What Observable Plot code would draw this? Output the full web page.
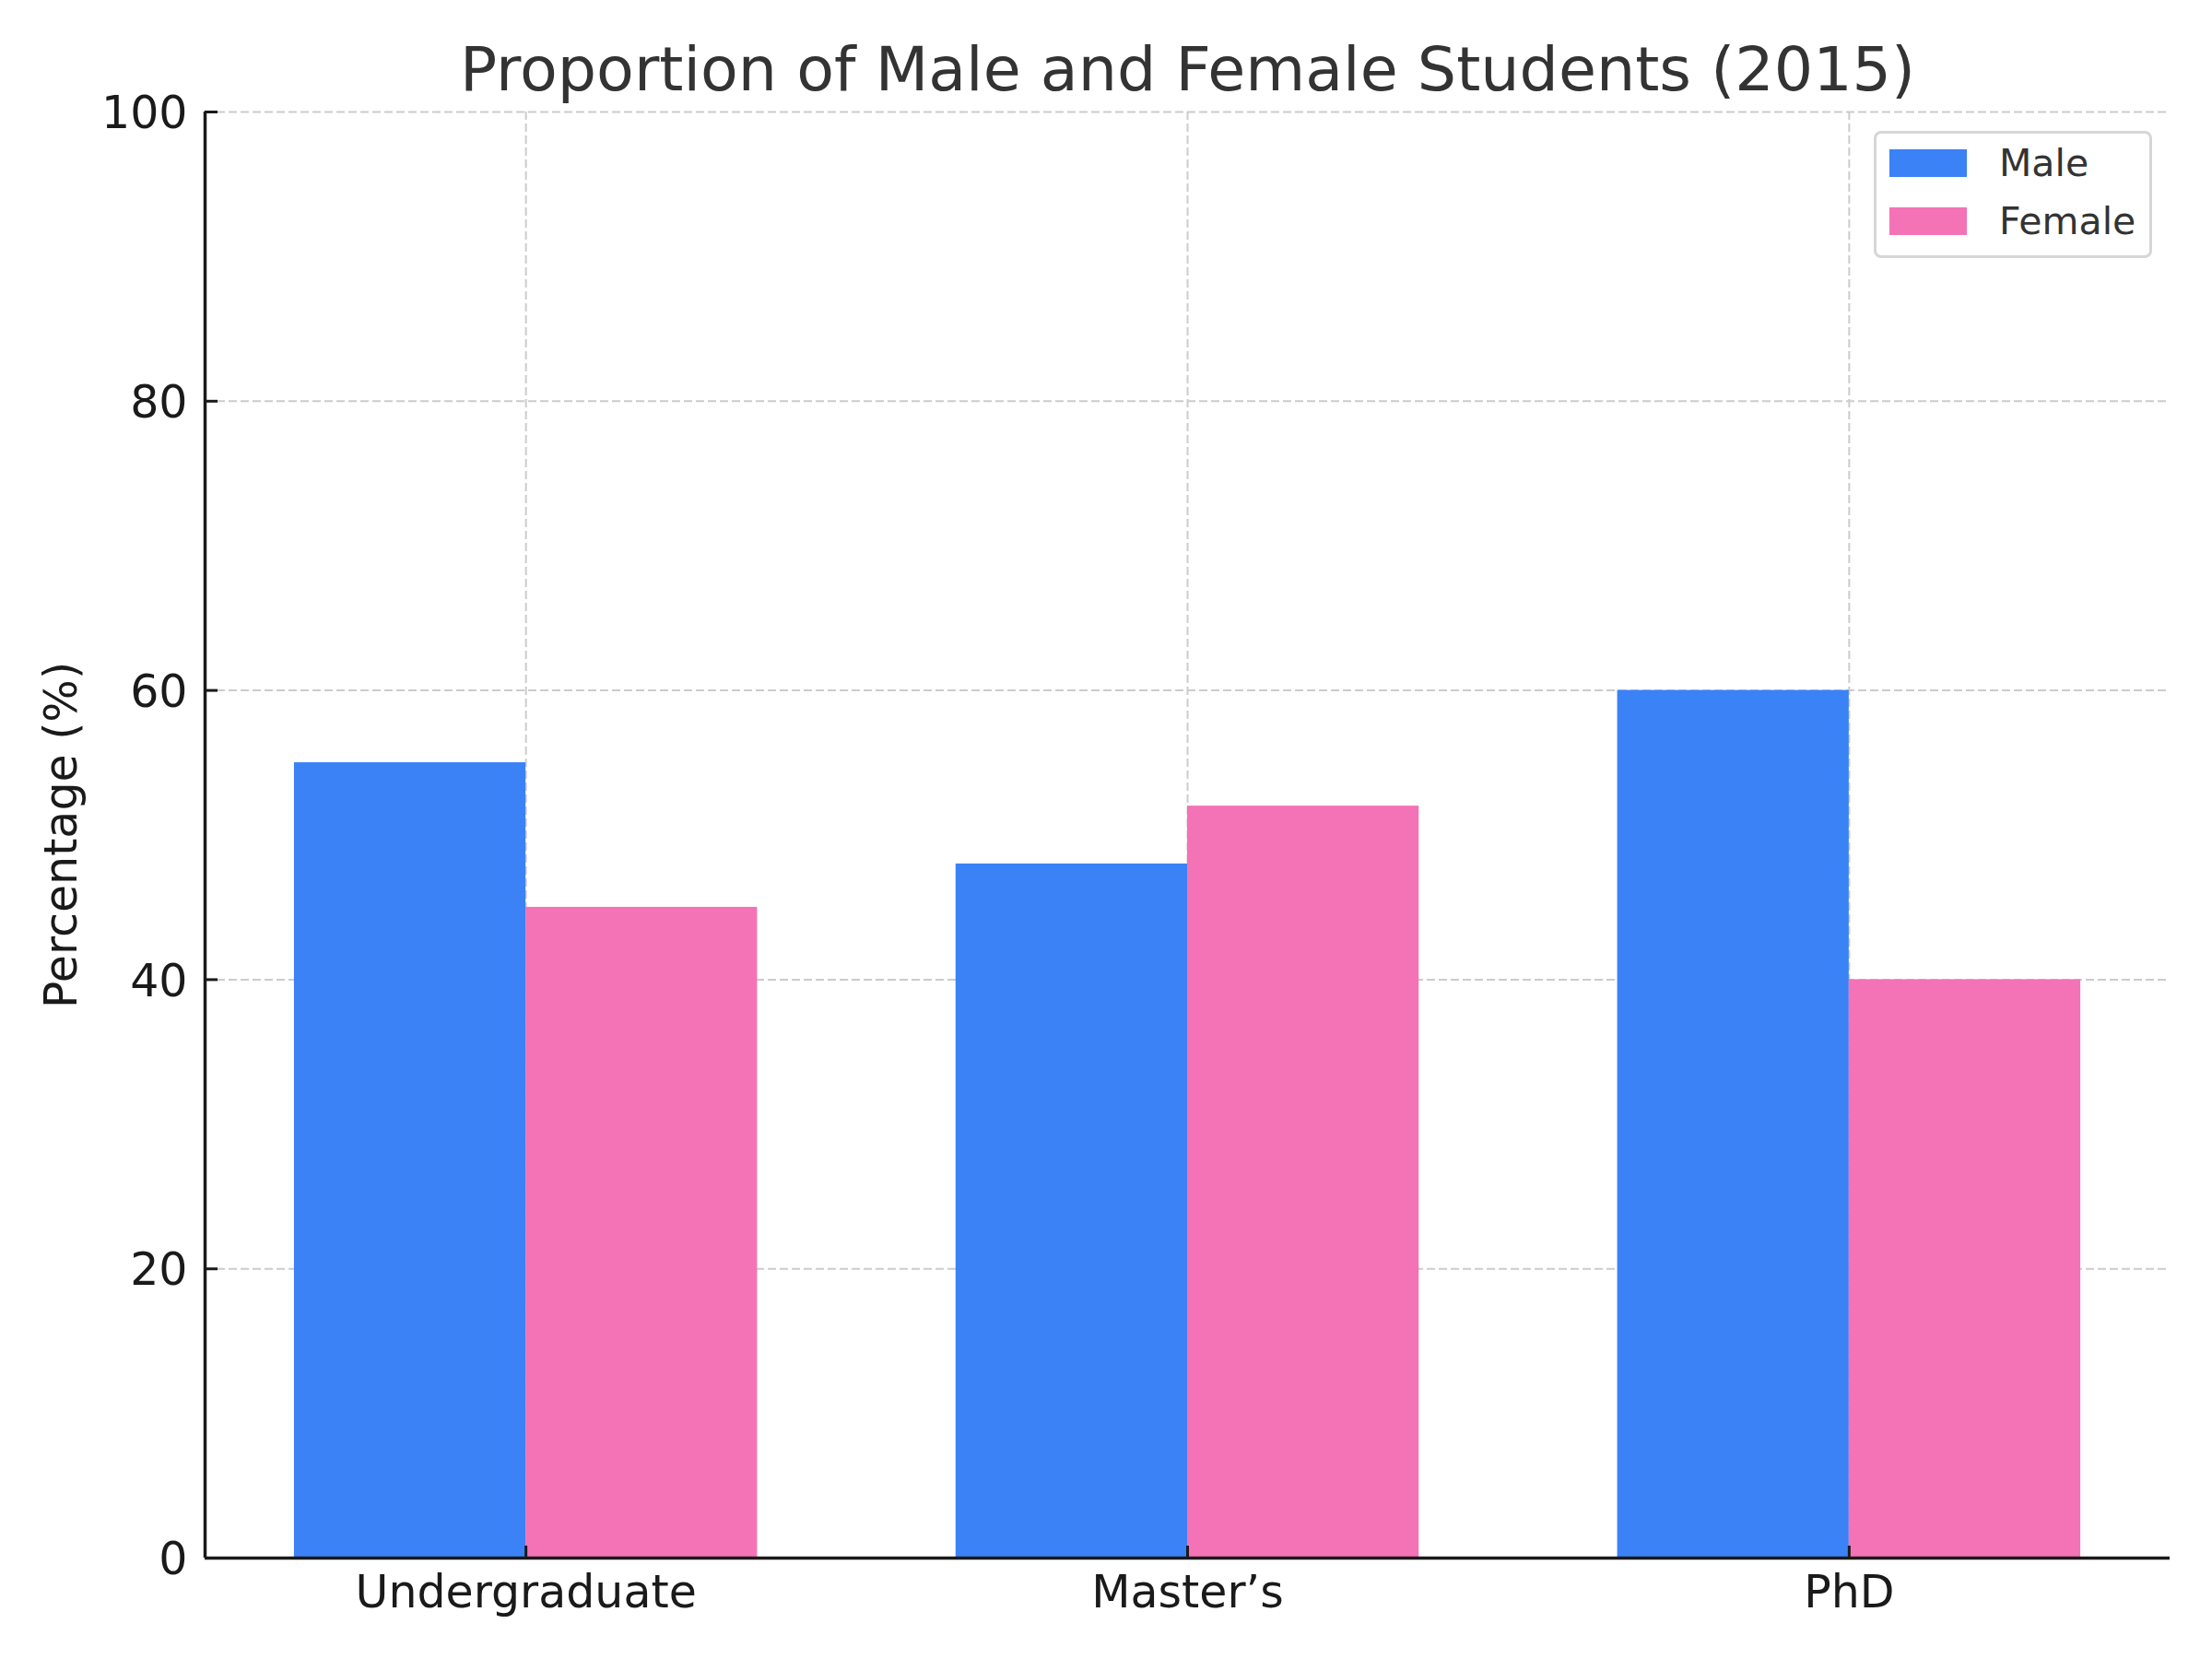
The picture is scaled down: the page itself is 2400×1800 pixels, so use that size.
<!DOCTYPE html>
<html>
<head>
<meta charset="utf-8">
<script src="https://cdn.jsdelivr.net/npm/d3@7"></script>
<script src="https://cdn.jsdelivr.net/npm/@observablehq/plot@0.6"></script>
<style>
  body { margin: 0; background: #fff; }
  #chart { position: relative; width: 2400px; height: 1800px; font-family: "DejaVu Sans", sans-serif; }
  .legend {
    position: absolute; left: 2033px; top: 142px; width: 302px; height: 138px;
    box-sizing: border-box; border: 3px solid #d6d6d6; border-radius: 8px; background: #fff;
  }
  .legend-row { position: absolute; left: 14px; height: 30px; display: flex; align-items: center; }
  .legend-swatch { width: 84px; height: 30px; }
  .legend-label { margin-left: 35px; font-size: 41px; line-height: 30px; color: #333; }
</style>
</head>
<body>
<div id="chart"></div>
<script>
// Degree levels and the share of each gender (%), 2015
const categories = ["Undergraduate", "Master\u2019s", "PhD"];
const male = [55, 48, 60];
const female = [45, 52, 40];
const seriesNames = ["Male", "Female"];
const seriesColors = ["#3B82F6", "#F472B6"];
const yTicks = [0, 20, 40, 60, 80, 100];

const titleText = "Proportion of Male and Female Students (2015)";
const yLabel = "Percentage (%)";

// Layout
const W = 2400, H = 1800;
const margin = {left: 222, right: 46, top: 121, bottom: 110};
const frameW = W - margin.left - margin.right;
const frameH = H - margin.top - margin.bottom;
const barWidth = 0.35;
const n = categories.length;
const pad = 0.05 * ((n - 1) + 2 * barWidth);
const xDomain = [-barWidth - pad, (n - 1) + barWidth + pad];
const xIdx = categories.map((_, i) => i);
const ink = "#1a1a1a";
const fontSize = 49;

// One row per bar: male sits left of the category position, female right of it
const rows = categories.flatMap((c, i) => [
  {i, category: c, gender: seriesNames[0], value: male[i], x1: i - barWidth, x2: i},
  {i, category: c, gender: seriesNames[1], value: female[i], x1: i, x2: i + barWidth}
]);

const gridStyle = {stroke: "#cccccc", strokeOpacity: 1, strokeWidth: 2, strokeDasharray: "9,4"};

const chart = Plot.plot({
  width: W,
  height: H,
  marginLeft: margin.left,
  marginRight: margin.right,
  marginTop: margin.top,
  marginBottom: margin.bottom,
  style: {fontFamily: "DejaVu Sans", background: "#fff", overflow: "visible"},
  x: {type: "linear", domain: xDomain, axis: null},
  y: {domain: [0, 100], axis: null},
  color: {domain: seriesNames, range: seriesColors},
  marks: [
    Plot.gridY(yTicks, gridStyle),
    Plot.gridX(xIdx, gridStyle),
    Plot.rect(rows, {x1: "x1", x2: "x2", y1: () => 0, y2: "value", fill: "gender"}),
    // inward tick marks
    Plot.tickY(yTicks, {y: d => d, stroke: ink, strokeWidth: 3, insetRight: frameW - 14}),
    Plot.tickX(xIdx, {x: d => d, stroke: ink, strokeWidth: 3, insetTop: frameH - 13}),
    // left and bottom spines
    Plot.ruleY([0], {stroke: ink, strokeWidth: 3.5}),
    Plot.ruleX([xDomain[0]], {stroke: ink, strokeWidth: 3.5}),
    // tick labels
    Plot.text(yTicks, {y: d => d, text: d => String(d), frameAnchor: "left", textAnchor: "end",
      lineAnchor: "middle", dx: -19, dy: 2, fontSize, fill: ink}),
    Plot.text(categories, {x: (d, i) => i, text: d => d, frameAnchor: "bottom",
      lineAnchor: "bottom", dy: 53, fontSize, fill: ink}),
    // axis label and title
    Plot.text([yLabel], {text: d => d, frameAnchor: "left", rotate: -90, dx: -140,
      lineAnchor: "bottom", textAnchor: "middle", fontSize, fill: ink}),
    Plot.text([titleText], {text: d => d, frameAnchor: "top", lineAnchor: "bottom", dy: -24,
      fontSize: 66.7, fill: "#333"})
  ]
});

const root = document.getElementById("chart");
root.appendChild(chart);

// Legend box in the upper right corner of the axes
const legend = document.createElement("div");
legend.className = "legend";
seriesNames.forEach((name, k) => {
  const row = document.createElement("div");
  row.className = "legend-row";
  row.style.top = (17 + k * 62.5) + "px";
  const sw = document.createElement("div");
  sw.className = "legend-swatch";
  sw.style.background = seriesColors[k];
  const label = document.createElement("span");
  label.className = "legend-label";
  label.textContent = name;
  row.appendChild(sw);
  row.appendChild(label);
  legend.appendChild(row);
});
root.appendChild(legend);
</script>
</body>
</html>
